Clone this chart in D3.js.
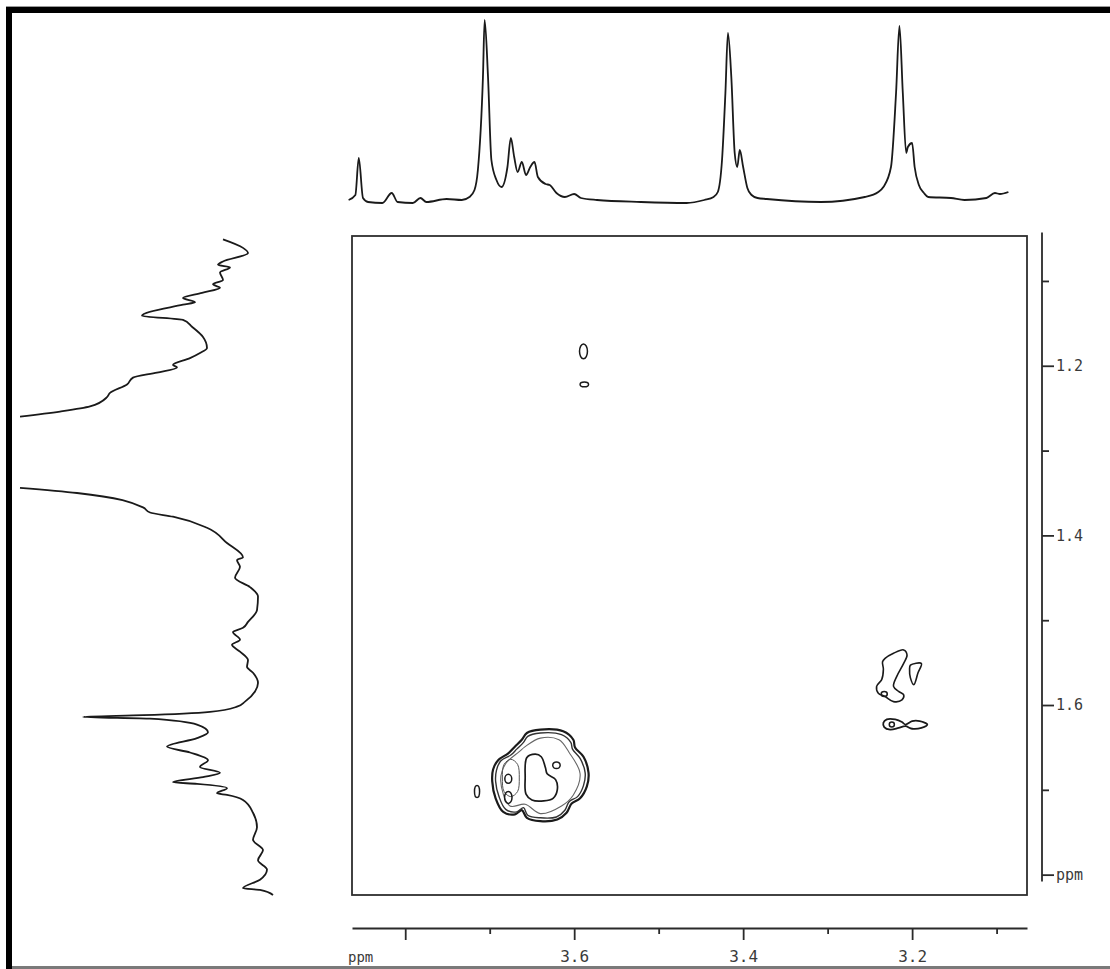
<!DOCTYPE html>
<html>
<head>
<meta charset="utf-8">
<script src="https://cdn.jsdelivr.net/npm/d3@7"></script>
<style>
  html, body { margin: 0; padding: 0; background: #fff; }
  svg { display: block; }
  text { font-family: "DejaVu Sans Mono", "Liberation Mono", monospace; fill: #3a3a3a; }
</style>
</head>
<body>
<svg id="chart" width="1110" height="969"></svg>
<script>
// ---- Axes (ppm) ----
const f2Domain = [3.863, 3.064];          // horizontal chemical shift, left to right
const f1Domain = [1.047, 1.824];          // vertical chemical shift, top to bottom
const f1AxisExtent = [1.043, 1.808];
const xMajorTicks = [3.8, 3.6, 3.4, 3.2];
const xMinorTicks = [3.7, 3.5, 3.3, 3.1];
const xTickLabels = ["", "3.6", "3.4", "3.2"];
const yMajorTicks = [1.2, 1.4, 1.6, 1.8];
const yMinorTicks = [1.1, 1.3, 1.5, 1.7];
const yTickLabels = ["1.2", "1.4", "1.6", "ppm"];
const unitLabel = "ppm";

// ---- Projection along F2: [ppm, intensity] ----
const f2Trace = [
  [3.867, 0], [3.859, 5], [3.855, 42], [3.850, 2], [3.844, -2], [3.827, -3],
  [3.816, 7], [3.809, -2], [3.791, -3], [3.782, 2], [3.775, -2], [3.751, 1],
  [3.733, 0], [3.724, 3], [3.718, 10], [3.714, 30], [3.708, 123], [3.706, 180], [3.702, 123],
  [3.698, 40], [3.692, 20], [3.686, 13], [3.679, 33], [3.675, 62], [3.671, 43],
  [3.667, 28], [3.662, 38], [3.657, 25], [3.652, 33], [3.647, 38], [3.643, 23],
  [3.634, 16], [3.629, 15], [3.621, 7], [3.611, 3], [3.600, 6], [3.592, 2],
  [3.573, 0], [3.521, -2], [3.467, -3], [3.446, 0], [3.435, 3], [3.430, 8], [3.425, 40],
  [3.421, 107], [3.418, 167], [3.414, 123], [3.410, 47], [3.407, 33], [3.404, 50],
  [3.400, 33], [3.395, 12], [3.390, 5], [3.383, 2], [3.372, 1], [3.308, -2], [3.256, 3],
  [3.240, 8], [3.234, 13], [3.225, 33], [3.219, 107], [3.215, 174], [3.211, 107], [3.207, 47],
  [3.205, 53], [3.200, 57], [3.197, 33], [3.192, 15], [3.186, 7], [3.181, 3], [3.154, 2],
  [3.138, 0], [3.112, 2], [3.102, 7], [3.096, 6], [3.086, 8]
];

// ---- Projection along F1: [ppm, intensity]; null marks the off-scale stretch ----
const f1Trace = [
  [1.051, 57], [1.061, 37], [1.067, 32], [1.077, 57], [1.081, 62], [1.084, 50],
  [1.090, 60], [1.099, 57], [1.104, 67], [1.108, 60], [1.114, 78], [1.120, 97],
  [1.125, 85], [1.128, 97], [1.141, 138], [1.146, 97], [1.154, 88], [1.166, 77],
  [1.179, 73], [1.185, 80], [1.191, 90], [1.199, 107], [1.202, 103], [1.208, 123],
  [1.214, 147], [1.222, 153], [1.232, 170], [1.237, 173], [1.248, 190], [1.254, 220],
  [1.260, 260], [1.300, null],
  [1.344, 260], [1.350, 203], [1.367, 137], [1.373, 130], [1.378, 107], [1.391, 73],
  [1.409, 53], [1.426, 37], [1.429, 43], [1.437, 40], [1.450, 45], [1.461, 30],
  [1.472, 22], [1.488, 23], [1.502, 32], [1.509, 37], [1.514, 47], [1.523, 40],
  [1.529, 48], [1.537, 40], [1.547, 32], [1.555, 33], [1.562, 27], [1.574, 22],
  [1.584, 25], [1.596, 35], [1.602, 43], [1.608, 70], [1.612, 137], [1.614, 197],
  [1.616, 130], [1.623, 83], [1.632, 72], [1.639, 83], [1.649, 113], [1.656, 90],
  [1.665, 72], [1.673, 80], [1.680, 60], [1.685, 77], [1.691, 107], [1.693, 83],
  [1.698, 53], [1.704, 63], [1.706, 53], [1.712, 37], [1.727, 27], [1.744, 23],
  [1.759, 27], [1.771, 17], [1.783, 22], [1.794, 13], [1.806, 20], [1.816, 37],
  [1.818, 20], [1.824, 7]
];

// ---- Cross-peak contours: [F2 ppm, F1 ppm] ----
const clusterOuter = [
  [3.662, 1.641], [3.656, 1.633], [3.640, 1.629], [3.613, 1.631], [3.601, 1.641],
  [3.599, 1.650], [3.589, 1.661], [3.583, 1.680], [3.585, 1.696], [3.593, 1.710],
  [3.603, 1.716], [3.609, 1.727], [3.620, 1.735], [3.640, 1.737], [3.656, 1.733],
  [3.662, 1.724], [3.670, 1.729], [3.684, 1.726], [3.693, 1.710], [3.697, 1.690],
  [3.696, 1.676], [3.690, 1.665], [3.678, 1.657], [3.670, 1.649]
];
const clusterMiddle = [
  [3.660, 1.644], [3.655, 1.637], [3.640, 1.633], [3.615, 1.635], [3.604, 1.644],
  [3.602, 1.652], [3.593, 1.663], [3.587, 1.680], [3.589, 1.695], [3.596, 1.708],
  [3.606, 1.714], [3.611, 1.724], [3.621, 1.732], [3.640, 1.733], [3.655, 1.730],
  [3.660, 1.721], [3.668, 1.726], [3.681, 1.723], [3.689, 1.708], [3.693, 1.690],
  [3.692, 1.677], [3.687, 1.666], [3.675, 1.659], [3.668, 1.652]
];
const clusterInner = [
  [3.658, 1.649], [3.640, 1.639], [3.618, 1.641], [3.606, 1.656], [3.593, 1.681],
  [3.601, 1.706], [3.615, 1.719], [3.640, 1.728], [3.658, 1.717], [3.676, 1.719],
  [3.687, 1.689], [3.681, 1.669], [3.665, 1.655]
];
const clusterLeftPair = [
  [3.675, 1.664], [3.683, 1.670], [3.685, 1.686], [3.683, 1.702], [3.675, 1.708],
  [3.667, 1.702], [3.665, 1.686], [3.667, 1.670]
];
const clusterCore = [
  [3.656, 1.662], [3.646, 1.658], [3.639, 1.661], [3.634, 1.674], [3.632, 1.681],
  [3.622, 1.688], [3.620, 1.700], [3.625, 1.710], [3.636, 1.713], [3.650, 1.712],
  [3.657, 1.705], [3.658, 1.686]
];
const rightLobe = [
  [3.232, 1.545], [3.222, 1.539], [3.210, 1.535], [3.206, 1.541], [3.210, 1.551],
  [3.218, 1.566], [3.222, 1.578], [3.216, 1.584], [3.210, 1.588], [3.212, 1.594],
  [3.222, 1.596], [3.232, 1.590], [3.240, 1.586], [3.242, 1.578], [3.236, 1.570],
  [3.234, 1.558], [3.235, 1.549]
];
const rightWedge = [
  [3.202, 1.553], [3.189, 1.551], [3.193, 1.562], [3.198, 1.576], [3.202, 1.568],
  [3.203, 1.558]
];
const rightPair = [
  [3.234, 1.621], [3.230, 1.617], [3.220, 1.617], [3.212, 1.620], [3.208, 1.623],
  [3.200, 1.619], [3.191, 1.619], [3.182, 1.623], [3.189, 1.627], [3.200, 1.628],
  [3.208, 1.625], [3.216, 1.627], [3.226, 1.629], [3.233, 1.626]
];
// small isolated peaks: [F2 ppm, F1 ppm, half-width ppm, half-height ppm]
const smallPeaks = [
  [3.589, 1.183, 0.0047, 0.0088],
  [3.588, 1.222, 0.0050, 0.0028],
  [3.715, 1.702, 0.0030, 0.0071],
  [3.678, 1.687, 0.0041, 0.0053],
  [3.678, 1.709, 0.0044, 0.0071],
  [3.621, 1.671, 0.0044, 0.0039],
  [3.233, 1.587, 0.0036, 0.0029],
  [3.224, 1.623, 0.0030, 0.0030]
];

// ---- Drawing ----
const svg = d3.select("#chart");
const ink = "#1a1a1a";

const x = d3.scaleLinear().domain(f2Domain).range([352, 1027]);
const y = d3.scaleLinear().domain(f1Domain).range([236, 895]);
const topI = d3.scaleLinear().domain([0, 180]).range([200, 20]);
const leftI = d3.scaleLinear().domain([0, 260]).range([280, 20]);

// page frame
svg.append("rect").attr("x", 6).attr("y", 6).attr("width", 1104).attr("height", 1).attr("fill", "#9a9a9a");
svg.append("rect").attr("x", 6).attr("y", 7).attr("width", 1104).attr("height", 6).attr("fill", "#000");
svg.append("rect").attr("x", 6).attr("y", 7).attr("width", 6).attr("height", 962).attr("fill", "#000");
svg.append("rect").attr("x", 12).attr("y", 966).attr("width", 1098).attr("height", 3).attr("fill", "#7a7a7a");

// plot box
svg.append("rect")
  .attr("x", x(f2Domain[0])).attr("y", y(f1Domain[0]))
  .attr("width", x(f2Domain[1]) - x(f2Domain[0]))
  .attr("height", y(f1Domain[1]) - y(f1Domain[0]))
  .attr("fill", "none").attr("stroke", "#2e2e2e").attr("stroke-width", 1.8);

// top projection
svg.append("path")
  .datum(f2Trace)
  .attr("fill", "none").attr("stroke", ink).attr("stroke-width", 1.8)
  .attr("stroke-linejoin", "round")
  .attr("d", d3.line().x(d => x(d[0])).y(d => topI(d[1])).curve(d3.curveMonotoneX));

// left projection
svg.append("path")
  .datum(f1Trace)
  .attr("fill", "none").attr("stroke", ink).attr("stroke-width", 1.8)
  .attr("stroke-linejoin", "round")
  .attr("d", d3.line().defined(d => d[1] !== null)
    .x(d => leftI(d[1])).y(d => y(d[0])).curve(d3.curveMonotoneY));

// contours
const closed = d3.line().x(d => x(d[0])).y(d => y(d[1])).curve(d3.curveCatmullRomClosed.alpha(0.5));
const g = svg.append("g").attr("fill", "none").attr("stroke-linejoin", "round");
[
  [clusterOuter, 2.2, ink],
  [clusterMiddle, 1.4, "#333"],
  [clusterInner, 1.1, "#666"],
  [clusterLeftPair, 1.0, "#555"],
  [clusterCore, 1.7, ink],
  [rightLobe, 1.6, ink],
  [rightWedge, 1.6, ink],
  [rightPair, 1.8, ink]
].forEach(([pts, w, c]) => {
  g.append("path").datum(pts).attr("d", closed).attr("stroke", c).attr("stroke-width", w);
});
g.selectAll("ellipse").data(smallPeaks).join("ellipse")
  .attr("cx", d => x(d[0])).attr("cy", d => y(d[1]))
  .attr("rx", d => Math.abs(x(d[0] + d[2]) - x(d[0])))
  .attr("ry", d => Math.abs(y(d[1] + d[3]) - y(d[1])))
  .attr("stroke", ink).attr("stroke-width", 1.5);

// bottom axis
const axisY = 928;
const bottom = svg.append("g").attr("transform", `translate(0,${axisY})`);
bottom.call(d3.axisBottom(x).tickValues(xMajorTicks).tickSize(12).tickSizeOuter(0)
  .tickFormat((d, i) => xTickLabels[i]));
const bottomMinor = svg.append("g").attr("transform", `translate(0,${axisY})`);
bottomMinor.call(d3.axisBottom(x).tickValues(xMinorTicks).tickSize(6).tickSizeOuter(0).tickFormat(""));
bottomMinor.select(".domain").remove();
svg.append("text").attr("x", x(f2Domain[0]) - 4).attr("y", 962)
  .attr("font-size", 14).text(unitLabel);

// right axis
const axisX = 1042;
const right = svg.append("g").attr("transform", `translate(${axisX},0)`);
right.call(d3.axisRight(y).tickValues(yMajorTicks).tickSize(12).tickSizeOuter(0)
  .tickFormat((d, i) => yTickLabels[i]));
right.select(".domain").remove();
right.append("line").attr("x1", 0).attr("x2", 0)
  .attr("y1", y(f1AxisExtent[0])).attr("y2", y(f1AxisExtent[1]));
const rightMinor = svg.append("g").attr("transform", `translate(${axisX},0)`);
rightMinor.call(d3.axisRight(y).tickValues(yMinorTicks).tickSize(7).tickSizeOuter(0).tickFormat(""));
rightMinor.select(".domain").remove();

// axis styling
svg.selectAll(".domain, .tick line").attr("stroke", "#2a2a2a").attr("stroke-width", 1.8);
right.selectAll("line").attr("stroke", "#2a2a2a").attr("stroke-width", 1.8);
bottom.selectAll(".tick text").attr("font-size", 16).attr("dy", null)
  .attr("y", 34).attr("fill", "#333");
right.selectAll(".tick text").attr("font-size", 15).attr("x", 14).attr("fill", "#333");
svg.selectAll(".tick text").style("font-family", '"DejaVu Sans Mono", monospace');
</script>
</body>
</html>
